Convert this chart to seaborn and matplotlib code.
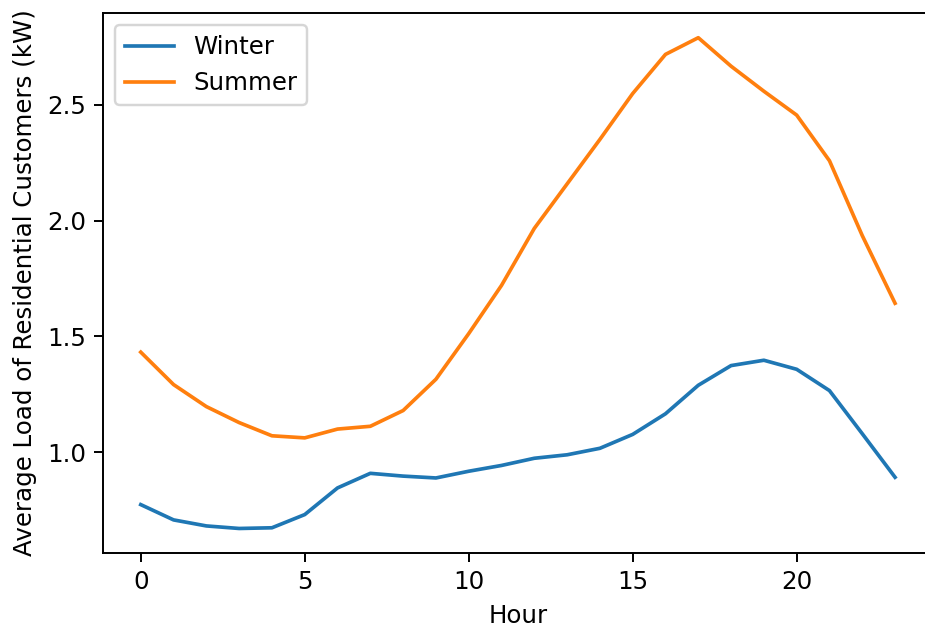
import matplotlib
matplotlib.use("Agg")
import matplotlib.pyplot as plt
import pandas as pd
import seaborn as sns

hours = list(range(24))
winter = [0.774, 0.708, 0.682, 0.671, 0.674, 0.731, 0.846, 0.909, 0.897, 0.889,
          0.918, 0.943, 0.974, 0.989, 1.017, 1.077, 1.166, 1.289, 1.374, 1.397,
          1.358, 1.266, 1.080, 0.892]
summer = [1.432, 1.292, 1.197, 1.128, 1.071, 1.062, 1.100, 1.112, 1.180, 1.315,
          1.512, 1.720, 1.966, 2.158, 2.350, 2.548, 2.717, 2.789, 2.666, 2.558,
          2.455, 2.258, 1.935, 1.643]
seasons = ["Winter", "Summer"]

df = pd.DataFrame({
    "Hour": hours * 2,
    "Load": winter + summer,
    "Season": [seasons[0]] * 24 + [seasons[1]] * 24,
})

plt.rcParams["font.family"] = ["DejaVu Sans"]
plt.rcParams["font.size"] = 10

DPI = 176
fig = plt.figure(figsize=(925 / DPI, 627 / DPI), dpi=DPI)
ax = fig.add_axes([0.1114, 0.118, 0.897, 0.861])

sns.lineplot(data=df, x="Hour", y="Load", hue="Season",
             palette=["#1f77b4", "#ff7f0e"], linewidth=1.5, ax=ax)

ax.set_xticks([0, 5, 10, 15, 20])
ax.set_yticks([1.0, 1.5, 2.0, 2.5])
ax.set_xlabel("Hour")
ax.set_ylabel("Average Load of Residential Customers (kW)")

ax.legend(loc="upper left", title=None)

fig.savefig("out.png", dpi=DPI)
